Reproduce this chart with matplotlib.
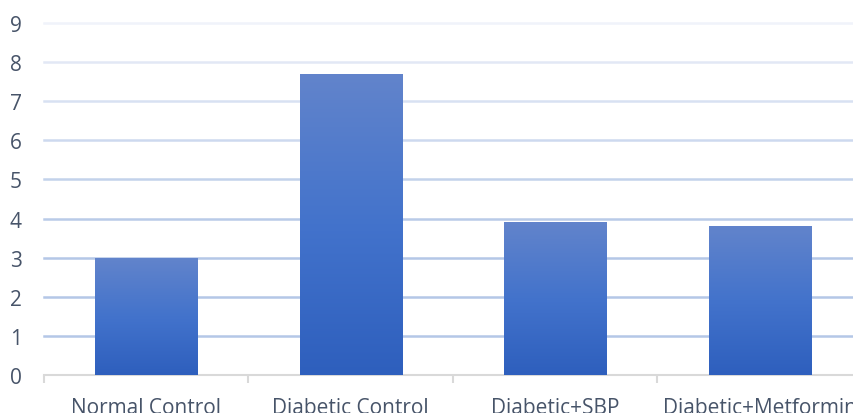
import matplotlib.pyplot as plt
import numpy as np
from matplotlib.colors import LinearSegmentedColormap

categories = ['Normal Control', 'Diabetic Control', 'Diabetic+SBP', 'Diabetic+Metformin']
values = [3.0, 7.7, 3.92, 3.82]
yticks = list(range(0, 10))

plt.rcParams['font.family'] = ['Open Sans', 'DejaVu Sans']
text_color = '#475469'

fig = plt.figure(figsize=(8.54, 4.14), dpi=100)
ax = fig.add_axes([44 / 854, 38 / 414, 818 / 854, 352 / 414])

x = np.arange(len(categories))
bars = ax.bar(x, values, width=0.5, color='none', zorder=3)

# gradient fill, light at top, darker at bottom
cmap = LinearSegmentedColormap.from_list('bar', ['#2e5fbd', '#4373cc', '#6284cb'])
grad = np.linspace(0, 1, 256).reshape(-1, 1)
for b in bars:
    x0, y0 = b.get_x(), b.get_y()
    w, h = b.get_width(), b.get_height()
    im = ax.imshow(grad, cmap=cmap, origin='lower', aspect='auto',
                   extent=[x0, x0 + w, y0, y0 + h], zorder=3)
    im.set_clip_path(b)

ax.set_xlim(-0.5, len(categories) - 0.5)
ax.set_ylim(0, 9)

# gridlines fade out towards the top
grid_cols = ['#b4c7e7', '#b4c7e7', '#b4c7e7', '#b9cbe8', '#c3d2eb', '#cdd9ef',
             '#d8e1f2', '#e2e8f5', '#f0f3fa']
for yv, c in zip(yticks[1:], grid_cols[:len(yticks) - 1]):
    ax.axhline(yv, color=c, lw=1.8, zorder=1, clip_on=False)

for s in ['top', 'right', 'left']:
    ax.spines[s].set_visible(False)
ax.spines['bottom'].set_color('#d9d9d9')
ax.spines['bottom'].set_linewidth(1.5)

ax.set_yticks(yticks)
ax.tick_params(axis='y', length=0, pad=16, labelsize=15, labelcolor=text_color)
ax.set_xticks(np.arange(len(categories) + 1) - 0.5, minor=False)
ax.set_xticklabels([])
ax.tick_params(axis='x', which='major', length=6, width=1.5, color='#d9d9d9')
ax.set_xticks(x, minor=True)
ax.set_xticklabels(categories, minor=True)
ax.tick_params(axis='x', which='minor', length=0, pad=15.5, labelsize=15, labelcolor=text_color)

fig.savefig('out.png', dpi=100, facecolor='white')
